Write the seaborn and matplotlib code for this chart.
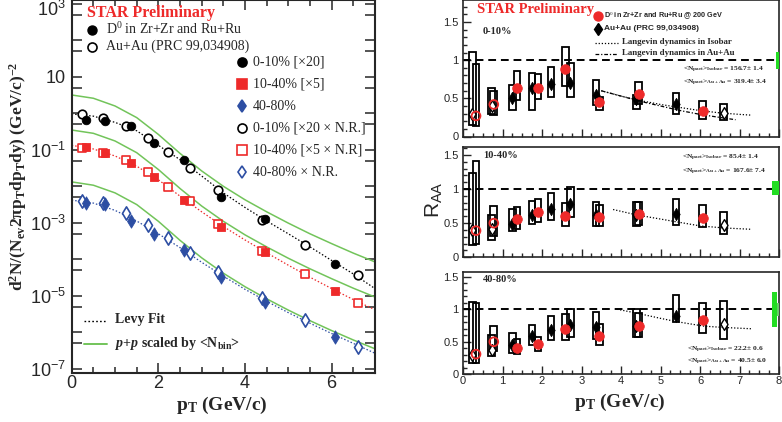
import matplotlib
matplotlib.use("Agg")
import matplotlib.pyplot as plt
import seaborn as sns
from matplotlib.patches import Rectangle
from matplotlib.lines import Line2D
from matplotlib.ticker import FixedLocator, FixedFormatter, MultipleLocator, NullFormatter

# ---------------- data ----------------
# pT bins
pt_iso = [0.33, 0.78, 1.37, 1.90, 2.59, 3.45, 4.45, 6.07]
pt_auau = [0.24, 0.73, 1.25, 1.75, 2.23, 2.72, 3.37, 4.39, 5.39, 6.60]

# spectra, isobar (filled) and Au+Au (open, x N.R.)
spec_iso_0_10 = [0.66, 0.63, 0.44, 0.15, 0.054, 5.2e-3, 1.3e-3, 7.6e-5]
spec_iso_10_40 = [0.117, 0.081, 0.043, 0.018, 4.1e-3, 7.9e-4, 1.6e-4, 1.4e-5]
spec_iso_40_80 = [3.5e-3, 3.2e-3, 1.15e-3, 4.8e-4, 1.8e-4, 3.2e-5, 6.9e-6, 7.6e-7]
spec_au_0_10 = [0.98, 0.76, 0.44, 0.21, 0.089, 0.032, 7.9e-3, 1.2e-3, 2.4e-4, 3.8e-5]
spec_au_10_40 = [0.112, 0.079, 0.051, 0.0245, 9.5e-3, 3.9e-3, 9.3e-4, 1.7e-4, 4.0e-5, 6.5e-6]
spec_au_40_80 = [3.9e-3, 3.4e-3, 1.8e-3, 8.5e-4, 3.9e-4, 1.5e-4, 4.5e-5, 8.9e-6, 2.2e-6, 4.1e-7]

# curves sampled along pT
curve_pt = [0, 0.5, 1, 1.5, 2, 2.5, 3, 3.5, 4, 4.5, 5, 5.5, 6, 6.5, 7]
levy_0_10 = [0.955, 0.832, 0.562, 0.331, 0.132, 0.0537, 0.0191, 6.6e-3, 2.63e-3,
             1.12e-3, 5.0e-4, 2.19e-4, 9.3e-5, 3.98e-5, 1.58e-5]
levy_10_40 = [0.132, 0.105, 0.0676, 0.0355, 0.0151, 5.37e-3, 2.0e-3, 7.9e-4, 3.39e-4,
              1.51e-4, 6.9e-5, 3.24e-5, 1.58e-5, 7.9e-6, 4.17e-6]
levy_40_80 = [4.17e-3, 3.47e-3, 2.19e-3, 1.12e-3, 5.0e-4, 2.09e-4, 8.3e-5, 3.47e-5, 1.51e-5,
              7.1e-6, 3.47e-6, 1.78e-6, 9.3e-7, 5.0e-7, 2.69e-7]
pp_0_10 = [3.16, 2.57, 1.58, 0.759, 0.263, 0.0794, 0.0263, 0.01, 4.27e-3,
           2.0e-3, 9.8e-4, 5.0e-4, 2.69e-4, 1.48e-4, 8.5e-5]
pp_10_40 = [0.347, 0.282, 0.174, 0.0832, 0.0288, 8.7e-3, 2.88e-3, 1.1e-3, 4.68e-4,
            2.19e-4, 1.07e-4, 5.5e-5, 2.95e-5, 1.62e-5, 9.3e-6]
pp_40_80 = [0.0132, 0.0107, 6.6e-3, 3.16e-3, 1.1e-3, 3.31e-4, 1.1e-4, 4.17e-5, 1.78e-5,
            8.3e-6, 4.07e-6, 2.09e-6, 1.12e-6, 6.2e-7, 3.55e-7]

# R_AA, isobar
raa_iso_0_10 = [0.27, 0.42, 0.64, 0.64, 0.89, 0.45, 0.56, 0.33]
raa_iso_0_10_lo = [0.14, 0.28, 0.48, 0.49, 0.66, 0.35, 0.43, 0.23]
raa_iso_0_10_hi = [0.95, 0.60, 0.86, 0.82, 1.17, 0.52, 0.72, 0.46]
raa_iso_10_40 = [0.39, 0.50, 0.56, 0.67, 0.60, 0.595, 0.63, 0.58]
raa_iso_10_40_lo = [0.19, 0.31, 0.42, 0.52, 0.46, 0.46, 0.47, 0.44]
raa_iso_10_40_hi = [1.41, 0.75, 0.74, 0.85, 0.79, 0.77, 0.81, 0.77]
raa_iso_40_80 = [0.31, 0.50, 0.40, 0.46, 0.70, 0.59, 0.74, 0.835]
raa_iso_40_80_lo = [0.17, 0.36, 0.31, 0.36, 0.53, 0.45, 0.58, 0.64]
raa_iso_40_80_hi = [1.10, 0.75, 0.54, 0.58, 0.92, 0.77, 0.94, 1.10]

# R_AA, Au+Au
raa_au_0_10 = [0.30, 0.40, 0.50, 0.63, 0.69, 0.70, 0.55, 0.49, 0.42, 0.31]
raa_au_0_10_lo = [0.15, 0.30, 0.35, 0.35, 0.52, 0.52, 0.41, 0.36, 0.29, 0.21]
raa_au_0_10_hi = [1.11, 0.64, 0.67, 0.83, 0.91, 0.96, 0.74, 0.55, 0.57, 0.43]
raa_au_10_40 = [0.40, 0.42, 0.49, 0.62, 0.70, 0.78, 0.62, 0.62, 0.63, 0.47]
raa_au_10_40_lo = [0.18, 0.25, 0.39, 0.49, 0.55, 0.59, 0.46, 0.46, 0.47, 0.34]
raa_au_10_40_hi = [1.24, 0.62, 0.71, 0.82, 0.94, 1.03, 0.81, 0.81, 0.85, 0.67]
raa_au_40_80 = [0.30, 0.37, 0.45, 0.59, 0.68, 0.76, 0.72, 0.74, 0.90, 0.78]
raa_au_40_80_lo = [0.17, 0.28, 0.33, 0.45, 0.53, 0.58, 0.55, 0.58, 0.81, 0.55]
raa_au_40_80_hi = [1.11, 0.60, 0.63, 0.76, 0.89, 1.00, 0.96, 1.00, 1.22, 1.12]

# Langevin model curves
lang_iso_0_10_x = [3.5, 4.0, 4.5, 5.0, 5.5, 6.0, 6.5, 7.0, 7.3]
lang_iso_0_10_y = [0.60, 0.53, 0.47, 0.42, 0.38, 0.34, 0.31, 0.29, 0.28]
lang_au_0_10_x = [3.5, 4.0, 4.5, 5.0, 5.5, 6.0, 6.5, 6.9]
lang_au_0_10_y = [0.60, 0.53, 0.46, 0.40, 0.34, 0.29, 0.25, 0.22]
lang_iso_10_40_x = [3.8, 4.4, 5.0, 5.4, 6.0, 6.6, 7.3]
lang_iso_10_40_y = [0.70, 0.62, 0.56, 0.52, 0.46, 0.43, 0.41]
lang_iso_40_80_x = [3.9, 4.4, 5.0, 5.4, 6.1, 6.6, 7.3]
lang_iso_40_80_y = [1.00, 0.94, 0.86, 0.81, 0.74, 0.72, 0.70]

# normalisation uncertainty (lo, hi) around unity
norm_0_10 = (0.89, 1.11)
norm_10_40 = (0.91, 1.11)
norm_40_80_wide = (0.90, 1.10)
norm_40_80_tall = (0.73, 1.27)

centralities = ["0-10%", "10-40%", "40-80%"]
npart_iso = ["156.7\u00b1 1.4", "85.4\u00b1 1.4", "22.2\u00b1 0.6"]
npart_au = ["319.4\u00b1 3.4", "167.6\u00b1 7.4", "40.5\u00b1 6.0"]

# ---------------- style ----------------
sns.set_style("ticks")
plt.rcParams['font.family'] = ['Liberation Sans', 'DejaVu Sans']
plt.rcParams['mathtext.fontset'] = 'custom'
plt.rcParams['mathtext.rm'] = 'Liberation Serif'
plt.rcParams['mathtext.it'] = 'Liberation Serif:bold:italic'
plt.rcParams['mathtext.bf'] = 'Liberation Serif:bold'
plt.rcParams['mathtext.sf'] = 'Liberation Sans'

RED = '#ee2a2a'
BLUE = '#2d4ea3'
GREEN = '#72c45a'
SERIF = 'Liberation Serif'

W, H = 782, 422
fig = plt.figure(figsize=(W / 100, H / 100), dpi=100)


def fx(px):
    return px / W


def fy(py):
    return 1 - py / H


def put(px, py, s, **kw):
    kw.setdefault('family', SERIF)
    kw.setdefault('va', 'center')
    fig.text(fx(px), fy(py), s, **kw)


def sym(px, py, **kw):
    fig.add_artist(Line2D([fx(px)], [fy(py)], linestyle='none', **kw))


def seg(px0, px1, py, **kw):
    fig.add_artist(Line2D([fx(px0), fx(px1)], [fy(py), fy(py)], **kw))


# ================= left: spectra =================
ax = fig.add_axes([fx(71.7), fy(373.3), fx(375) - fx(71.7), fy(0) - fy(373.3)])
ax.set_yscale('log')

for yv, c in [(pp_0_10, GREEN), (pp_10_40, GREEN), (pp_40_80, GREEN)]:
    sns.lineplot(x=curve_pt, y=yv, ax=ax, color=c, lw=1.1, estimator=None, sort=False)
for yv, c in [(levy_0_10, 'black'), (levy_10_40, RED), (levy_40_80, BLUE)]:
    sns.lineplot(x=curve_pt, y=yv, ax=ax, color=c, lw=0.9, estimator=None, sort=False,
                 linestyle=(0, (1.2, 1.6)))

for yv, c, m, s in [(spec_au_0_10, 'black', 'o', 38), (spec_au_10_40, RED, 's', 36),
                    (spec_au_40_80, BLUE, 'd', 46)]:
    ax.scatter(pt_auau, yv, s=s, marker=m, facecolors='white', edgecolors=c, linewidths=1.2, zorder=4)
for yv, c, m, s in [(spec_iso_0_10, 'black', 'o', 38), (spec_iso_10_40, RED, 's', 36),
                    (spec_iso_40_80, BLUE, 'd', 46)]:
    sns.scatterplot(x=pt_iso, y=yv, ax=ax, color=c, marker=m, s=s, edgecolor=c, linewidth=0.6, zorder=5)

ax.set_xlim(0, 7)
ax.set_ylim(10 ** -7.12, 10 ** 3.1)
ax.yaxis.set_major_locator(FixedLocator([10.0 ** k for k in range(-7, 4)]))
ax.yaxis.set_major_formatter(FixedFormatter(
    ['$\\mathsf{10^{-7}}$', '', '$\\mathsf{10^{-5}}$', '', '$\\mathsf{10^{-3}}$', '',
     '$\\mathsf{10^{-1}}$', '', '10', '', '']))
ax.yaxis.set_minor_locator(FixedLocator([5 * 10.0 ** k for k in range(-8, 3)]))
ax.yaxis.set_minor_formatter(NullFormatter())
ax.xaxis.set_major_locator(FixedLocator([0, 2, 4, 6]))
ax.xaxis.set_minor_locator(MultipleLocator(0.5))
ax.tick_params(which='both', direction='in', top=True, right=True, labelsize=13, width=1.1)
ax.tick_params(which='major', length=7)
ax.tick_params(axis='y', which='major', pad=4)
ax.tick_params(axis='x', which='major', pad=1.5)
ax.tick_params(axis='y', which='minor', length=7)
ax.tick_params(axis='x', which='minor', length=4)
for sp in ax.spines.values():
    sp.set_linewidth(1.5)
ax.set_xlabel('')
ax.set_ylabel('')
# top decade label sits just under the frame edge
put(66, 10, '$\\mathsf{10^{3}}$', fontsize=13, family='Liberation Sans', ha='right')

put(222, 405, 'p$_{\\mathbf{T}}$ (GeV/c)', fontsize=14, fontweight='bold', ha='center')
put(18, 176, 'd$^{\\mathbf{2}}$N/(N$_{\\mathbf{ev}}$2\u03c0p$_{\\mathbf{T}}$dp$_{\\mathbf{T}}$dy) (GeV/c)$^{\\mathbf{-2}}$',
    fontsize=12.5, fontweight='bold', ha='center', rotation=90)

put(87, 13, 'STAR Preliminary', fontsize=11.5, fontweight='bold', color=RED)
sym(92, 30, marker='o', ms=6.5, color='black')
put(106, 29, 'D$^0$ in Zr+Zr and Ru+Ru', fontsize=10)
sym(92, 47, marker='o', ms=6.5, mfc='white', mec='black', mew=1.2)
put(106, 46, 'Au+Au (PRC 99,034908)', fontsize=10)

leg_rows = [('o', 'black', True, '0-10% [\u00d720]'), ('s', RED, True, '10-40% [\u00d75]'),
            ('d', BLUE, True, '40-80%'), ('o', 'black', False, '0-10% [\u00d720 \u00d7 N.R.]'),
            ('s', RED, False, '10-40% [\u00d75 \u00d7 N.R]'), ('d', BLUE, False, '40-80% \u00d7 N.R.')]
for i, (m, c, filled, lab) in enumerate(leg_rows):
    py = 62 + 22 * i
    sym(242, py, marker=m, ms=6.5, color=c, mfc=c if filled else 'white', mec=c, mew=1.2)
    put(253, py, lab, fontsize=10)

seg(84, 107, 321, color='black', lw=1.0, linestyle=(0, (1.2, 1.6)))
put(115, 320, 'Levy Fit', fontsize=10, fontweight='bold')
seg(84, 107, 344, color=GREEN, lw=1.4)
put(115, 343, '$p$+$p$ scaled by <N$_{\\mathbf{bin}}$>', fontsize=10, fontweight='bold')

# ================= right: R_AA panels =================
panels = [
    (136.5, 0.0, 1.79, raa_iso_0_10, raa_iso_0_10_lo, raa_iso_0_10_hi,
     raa_au_0_10, raa_au_0_10_lo, raa_au_0_10_hi),
    (257.3, 147.0, 1.615, raa_iso_10_40, raa_iso_10_40_lo, raa_iso_10_40_hi,
     raa_au_10_40, raa_au_10_40_lo, raa_au_10_40_hi),
    (374.3, 271.5, 1.58, raa_iso_40_80, raa_iso_40_80_lo, raa_iso_40_80_hi,
     raa_au_40_80, raa_au_40_80_lo, raa_au_40_80_hi),
]
raxes = []
BW = 0.17
for (pb, pt, ytop, ri, ri_lo, ri_hi, ra, ra_lo, ra_hi) in panels:
    a = fig.add_axes([fx(463), fy(pb), fx(779) - fx(463), fy(pt) - fy(pb)])
    raxes.append(a)
    a.axhline(1.0, color='black', lw=1.4, linestyle=(0, (4, 2.5)), zorder=1)
    for xs, lo, hi in [(pt_auau, ra_lo, ra_hi), (pt_iso, ri_lo, ri_hi)]:
        for xv, l, h in zip(xs, lo, hi):
            a.add_patch(Rectangle((xv - BW / 2, l), BW, h - l, fill=False,
                                  edgecolor='black', lw=1.3, zorder=2))
    # Au+Au diamonds: lowest two and highest bins open
    au_fill = [False, False, True, True, True, True, True, True, True, False]
    sns.scatterplot(x=[x for x, f in zip(pt_auau, au_fill) if f],
                    y=[y for y, f in zip(ra, au_fill) if f], ax=a, marker='d', s=40,
                    color='black', edgecolor='black', zorder=4)
    a.scatter([x for x, f in zip(pt_auau, au_fill) if not f],
              [y for y, f in zip(ra, au_fill) if not f], marker='d', s=36,
              facecolors='white', edgecolors='black', linewidths=1.0, zorder=4)
    # isobar points: lowest two bins open
    a.scatter(pt_iso[:2], ri[:2], marker='o', s=40, facecolors='none', edgecolors=RED,
              linewidths=1.3, zorder=5)
    sns.scatterplot(x=pt_iso[2:], y=ri[2:], ax=a, marker='o', s=48, color=RED,
                    edgecolor=RED, zorder=5)
    a.set_xlim(0, 8)
    a.set_ylim(0, ytop)
    a.yaxis.set_major_locator(FixedLocator([0, 0.5, 1, 1.5]))
    a.yaxis.set_major_formatter(FixedFormatter(['0', '0.5', '1', '1.5']))
    a.yaxis.set_minor_locator(MultipleLocator(0.1))
    a.xaxis.set_major_locator(MultipleLocator(1))
    a.xaxis.set_minor_locator(MultipleLocator(0.25))
    a.tick_params(which='both', direction='in', labelsize=8, width=1.0)
    a.tick_params(which='major', length=6)
    a.tick_params(axis='y', which='major', pad=3)
    a.tick_params(axis='x', which='major', pad=1.5)
    a.tick_params(which='minor', length=3)
    for sp in a.spines.values():
        sp.set_linewidth(1.2)
    a.set_xlabel('')
    a.set_ylabel('')

ax1, ax2, ax3 = raxes
for a in (ax1, ax2):
    a.tick_params(axis='x', labelbottom=False)
ax3.xaxis.set_major_formatter(FixedFormatter([str(i) for i in range(-1, 10)]))

# Langevin curves
sns.lineplot(x=lang_iso_0_10_x, y=lang_iso_0_10_y, ax=ax1, color='black', lw=0.9,
             linestyle=(0, (1, 1.5)), estimator=None, sort=False)
sns.lineplot(x=lang_au_0_10_x, y=lang_au_0_10_y, ax=ax1, color='black', lw=0.9,
             linestyle=(0, (3, 1.5, 1, 1.5)), estimator=None, sort=False)
sns.lineplot(x=lang_iso_10_40_x, y=lang_iso_10_40_y, ax=ax2, color='black', lw=0.9,
             linestyle=(0, (1, 1.5)), estimator=None, sort=False)
sns.lineplot(x=lang_iso_40_80_x, y=lang_iso_40_80_y, ax=ax3, color='black', lw=0.9,
             linestyle=(0, (1, 1.5)), estimator=None, sort=False)

# normalisation boxes at the right edge
for a, (lo, hi), x0, w, col in [(ax1, norm_0_10, 7.92, 0.2, '#22dd22'),
                                (ax2, norm_10_40, 7.83, 0.25, '#22dd22'),
                                (ax3, norm_40_80_tall, 7.83, 0.11, '#22dd22'),
                                (ax3, norm_40_80_wide, 7.94, 0.2, '#66cc66')]:
    a.add_patch(Rectangle((x0, lo), w, hi - lo, color=col, lw=0, zorder=3, clip_on=True))

put(434, 200, 'R$_{\\mathsf{AA}}$', fontsize=15, family='Liberation Sans', ha='center', rotation=90)
put(620, 402, 'p$_{\\mathbf{T}}$ (GeV/c)', fontsize=14, fontweight='bold', ha='center')

put(477, 10, 'STAR Preliminary', fontsize=10.5, fontweight='bold', color=RED)
sym(598, 16, marker='o', ms=6.5, color=RED)
put(604, 16, 'D$^0$ in Zr+Zr and Ru+Ru @ 200 GeV', fontsize=5.2, fontweight='bold',
    family='Liberation Sans')
sym(598, 29, marker='d', ms=6, color='black')
put(604, 29, 'Au+Au (PRC 99,034908)', fontsize=6, fontweight='bold', family='Liberation Sans')
seg(595, 618, 42.5, color='black', lw=0.9, linestyle=(0, (1, 1.5)))
put(622, 42, 'Langevin dynamics in Isobar', fontsize=6.4, fontweight='bold')
seg(595, 618, 53.5, color='black', lw=0.9, linestyle=(0, (3, 1.5, 1, 1.5)))
put(622, 53, 'Langevin dynamics in Au+Au', fontsize=6.4, fontweight='bold')

cent_y = [31, 155, 280]
npart_y = [(70, 83), (158, 172), (349.5, 361.5)]
npart_x = [683, 682, 687]
for c, cy, (y1, y2), nx, ni, na in zip(centralities, cent_y, npart_y, npart_x, npart_iso, npart_au):
    put(483, cy, c, fontsize=7.5, fontweight='bold')
    put(nx, y1, '<N$_{\\mathbf{part}}$>$_{\\mathbf{Isobar}}$ = ' + ni, fontsize=5.4, fontweight='bold')
    put(nx, y2, '<N$_{\\mathbf{part}}$>$_{\\mathbf{Au+Au}}$ = ' + na, fontsize=5.4, fontweight='bold')

fig.savefig('out.png', dpi=100)
